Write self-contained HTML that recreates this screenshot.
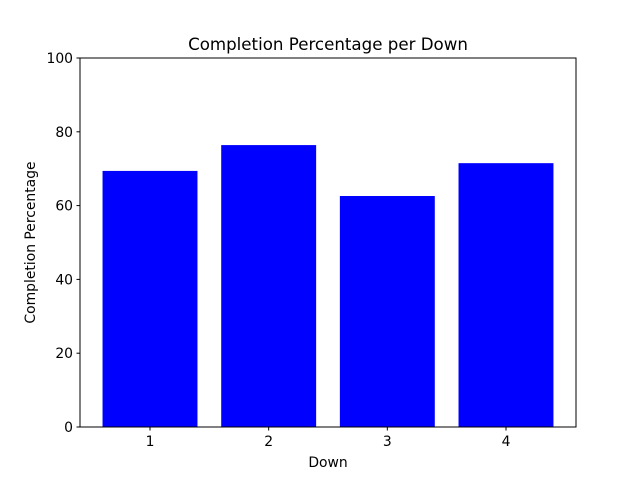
<!DOCTYPE html>
<html><head><meta charset="utf-8"><style>
body{margin:0;background:#fff;}
svg text{font-family:"DejaVu Sans","Liberation Sans",sans-serif;fill:#000;}
</style></head><body>
<svg id="chart" width="640" height="480" xmlns="http://www.w3.org/2000/svg">
<rect width="640" height="480" fill="#fff"/>
<text x="328" y="50" font-size="16.67" text-anchor="middle">Completion Percentage per Down</text>
<g id="bars"></g>
<g id="axes"></g>
<rect x="80" y="58" width="496" height="369" fill="none" stroke="#000" stroke-width="1"/>
<text x="328" y="467" font-size="13.9" text-anchor="middle">Down</text>
<text transform="translate(35,242.5) rotate(-90)" font-size="13.9" text-anchor="middle">Completion Percentage</text>
</svg>
<script>
const categories = [1, 2, 3, 4];
const values = [69.4, 76.4, 62.6, 71.5];
const yTicks = [0, 20, 40, 60, 80, 100];
const NS = "http://www.w3.org/2000/svg";
const L = 80, R = 576, T = 58, B = 427;
const xMin = 0.41, xMax = 4.59;
function xs(v){ return L + (v - xMin) / (xMax - xMin) * (R - L); }
function ys(v){ return B - v / 100 * (B - T); }
const bars = document.getElementById('bars');
const axes = document.getElementById('axes');
categories.forEach((c, i) => {
  const r = document.createElementNS(NS, 'rect');
  const x0 = xs(c - 0.4), x1 = xs(c + 0.4);
  r.setAttribute('x', x0); r.setAttribute('width', x1 - x0);
  r.setAttribute('y', ys(values[i])); r.setAttribute('height', ys(0) - ys(values[i]));
  r.setAttribute('fill', '#0000ff');
  
  
  bars.appendChild(r);
  const t = document.createElementNS(NS, 'line');
  t.setAttribute('x1', xs(c)); t.setAttribute('x2', xs(c));
  t.setAttribute('y1', B); t.setAttribute('y2', B + 3.5);
  t.setAttribute('stroke', '#000');
  
  
  axes.appendChild(t);
  const lb = document.createElementNS(NS, 'text');
  lb.setAttribute('x', xs(c)); lb.setAttribute('y', B + 19);
  lb.setAttribute('font-size', '13.9'); lb.setAttribute('text-anchor', 'middle');
  lb.textContent = c;
  
  
  axes.appendChild(lb);
});
yTicks.forEach(v => {
  const t = document.createElementNS(NS, 'line');
  t.setAttribute('x1', L - 3.5); t.setAttribute('x2', L);
  t.setAttribute('y1', ys(v)); t.setAttribute('y2', ys(v));
  t.setAttribute('stroke', '#000');
  
  
  axes.appendChild(t);
  const lb = document.createElementNS(NS, 'text');
  lb.setAttribute('x', L - 7); lb.setAttribute('y', ys(v) + 5);
  lb.setAttribute('font-size', '13.9'); lb.setAttribute('text-anchor', 'end');
  lb.textContent = v;
  
  
  axes.appendChild(lb);
});
</script>
</body></html>
